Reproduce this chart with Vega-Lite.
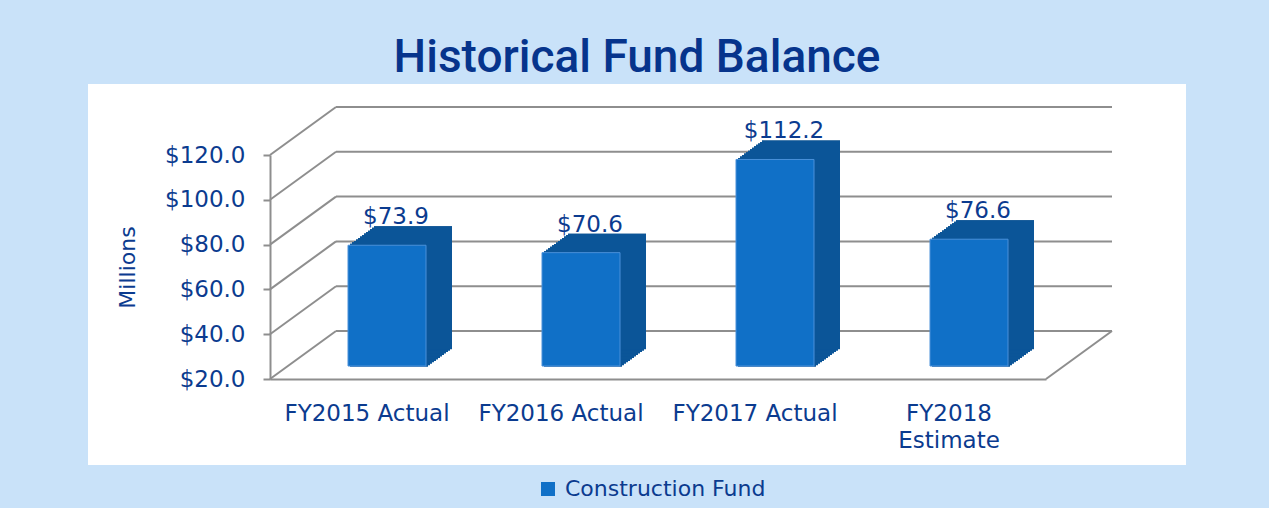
{
  "$schema": "https://vega.github.io/schema/vega-lite/v6.json",
  "width": 1098,
  "height": 381,
  "autosize": {"type": "none"},
  "padding": {"left": 88, "top": 84, "right": 83, "bottom": 43},
  "background": "#c9e2f9",
  "view": {"fill": "white", "stroke": null},
  "title": {
    "text": "Historical Fund Balance",
    "font": "Roboto",
    "fontSize": 46,
    "fontWeight": 500,
    "color": "#06348c",
    "anchor": "middle",
    "frame": "group",
    "offset": 2
  },
  "datasets": {
    "fund": [
      {"year": "FY2015 Actual", "value": 73.9},
      {"year": "FY2016 Actual", "value": 70.6},
      {"year": "FY2017 Actual", "value": 112.2},
      {"year": "FY2018 Estimate", "value": 76.6}
    ],
    "ticks": [{"v": 20}, {"v": 40}, {"v": 60}, {"v": 80}, {"v": 100}, {"v": 120}]
  },
  "data": {"name": "fund"},
  "config": {
    "axis": {
      "domainColor": "#8e8e8e",
      "domainWidth": 2,
      "tickColor": "#8e8e8e",
      "tickWidth": 2,
      "labelFont": "DejaVu Sans",
      "labelFontSize": 23,
      "labelColor": "#0b3b8f",
      "grid": false,
      "titleFont": "DejaVu Sans",
      "titleColor": "#0b3b8f",
      "titleFontWeight": "normal",
      "zindex": 1
    },
    "legend": {"labelFont": "DejaVu Sans", "labelFontSize": 22, "labelColor": "#0b3b8f", "labelLimit": 400}
  },
  "layer": [
    {
      "data": {"name": "ticks"},
      "mark": {"type": "rule", "color": "#8e8e8e", "strokeWidth": 2, "xOffset": 66, "x2Offset": 66, "yOffset": -48},
      "encoding": {
        "x": {"datum": "FY2015 Actual", "bandPosition": 0,
          "scale": {"type": "band", "domain": ["FY2015 Actual", "FY2016 Actual", "FY2017 Actual", "FY2018 Estimate"], "paddingInner": 0, "paddingOuter": 0, "range": [182, 958]},
          "axis": {"orient": "bottom", "offset": -86, "ticks": false, "labelPadding": 23, "title": null, "labelAngle": 0, "labelOverlap": false, "labelLimit": 300, "labelBaseline": "top", "labelLineHeight": 27, "labelExpr": "datum.label == 'FY2018 Estimate' ? ['FY2018', 'Estimate'] : datum.label"}},
        "x2": {"datum": "FY2018 Estimate", "bandPosition": 1},
        "y": {"field": "v", "type": "quantitative",
          "scale": {"domain": [20, 120], "range": [295, 71], "zero": false, "nice": false},
          "axis": {"orient": "left", "offset": -182, "values": [20, 40, 60, 80, 100, 120], "format": "$,.1f", "tickSize": 7, "labelPadding": 18, "title": "Millions", "titleFontSize": 22, "titlePadding": 25}}
      }
    },
    {
      "data": {"name": "ticks"},
      "mark": {"type": "rule", "color": "#8e8e8e", "strokeWidth": 2, "x2Offset": 66, "y2Offset": -48},
      "encoding": {
        "x": {"datum": "FY2015 Actual", "bandPosition": 0,
          "axis": {"orient": "bottom", "offset": -86, "ticks": false, "labelPadding": 23, "title": null, "labelAngle": 0, "labelOverlap": false, "labelLimit": 300, "labelBaseline": "top", "labelLineHeight": 27, "labelExpr": "datum.label == 'FY2018 Estimate' ? ['FY2018', 'Estimate'] : datum.label"}},
        "x2": {"datum": "FY2015 Actual", "bandPosition": 0},
        "y": {"field": "v", "type": "quantitative",
          "axis": {"orient": "left", "offset": -182, "values": [20, 40, 60, 80, 100, 120], "format": "$,.1f", "tickSize": 7, "labelPadding": 18, "title": "Millions", "titleFontSize": 22, "titlePadding": 25}},
        "y2": {"field": "v"}
      }
    },
    {
      "data": {"name": "ticks"},
      "transform": [{"filter": "datum.v == 20"}],
      "mark": {"type": "rule", "color": "#8e8e8e", "strokeWidth": 2, "x2Offset": 66, "y2Offset": -48},
      "encoding": {
        "x": {"datum": "FY2018 Estimate", "bandPosition": 1,
          "axis": {"orient": "bottom", "offset": -86, "ticks": false, "labelPadding": 23, "title": null, "labelAngle": 0, "labelOverlap": false, "labelLimit": 300, "labelBaseline": "top", "labelLineHeight": 27, "labelExpr": "datum.label == 'FY2018 Estimate' ? ['FY2018', 'Estimate'] : datum.label"}},
        "x2": {"datum": "FY2018 Estimate", "bandPosition": 1},
        "y": {"field": "v", "type": "quantitative",
          "axis": {"orient": "left", "offset": -182, "values": [20, 40, 60, 80, 100, 120], "format": "$,.1f", "tickSize": 7, "labelPadding": 18, "title": "Millions", "titleFontSize": 22, "titlePadding": 25}},
        "y2": {"field": "v"}
      }
    },
    {
      "encoding": {
        "x": {"field": "year", "type": "nominal",
          "axis": {"orient": "bottom", "offset": -86, "ticks": false, "labelPadding": 23, "title": null, "labelAngle": 0, "labelOverlap": false, "labelLimit": 300, "labelBaseline": "top", "labelLineHeight": 27, "labelExpr": "datum.label == 'FY2018 Estimate' ? ['FY2018', 'Estimate'] : datum.label"}},
        "y": {"field": "value", "type": "quantitative",
          "axis": {"orient": "left", "offset": -182, "values": [20, 40, 60, 80, 100, 120], "format": "$,.1f", "tickSize": 7, "labelPadding": 18, "title": "Millions", "titleFontSize": 22, "titlePadding": 25}},
        "y2": {"datum": 20}
      },
      "layer": [
        {"mark": {"type": "bar", "width": 78, "color": "#0a4a80", "xOffset": 22, "yOffset": -14.46, "y2Offset": -14.46}},
        {"mark": {"type": "bar", "width": 78, "color": "#0a4a80", "xOffset": 24, "yOffset": -15.92, "y2Offset": -15.92}},
        {"mark": {"type": "bar", "width": 78, "color": "#0a4a80", "xOffset": 26, "yOffset": -17.38, "y2Offset": -17.38}},
        {"mark": {"type": "bar", "width": 78, "color": "#0a4a80", "xOffset": 28, "yOffset": -18.85, "y2Offset": -18.85}},
        {"mark": {"type": "bar", "width": 78, "color": "#0a4a80", "xOffset": 30, "yOffset": -20.31, "y2Offset": -20.31}},
        {"mark": {"type": "bar", "width": 78, "color": "#0a4a80", "xOffset": 32, "yOffset": -21.77, "y2Offset": -21.77}},
        {"mark": {"type": "bar", "width": 78, "color": "#0a4a80", "xOffset": 34, "yOffset": -23.23, "y2Offset": -23.23}},
        {"mark": {"type": "bar", "width": 78, "color": "#0a4a80", "xOffset": 36, "yOffset": -24.69, "y2Offset": -24.69}},
        {"mark": {"type": "bar", "width": 78, "color": "#0a4a80", "xOffset": 38, "yOffset": -26.15, "y2Offset": -26.15}},
        {"mark": {"type": "bar", "width": 78, "color": "#0a4a80", "xOffset": 40, "yOffset": -27.62, "y2Offset": -27.62}},
        {"mark": {"type": "bar", "width": 78, "color": "#0a4a80", "xOffset": 42, "yOffset": -29.08, "y2Offset": -29.08}},
        {"mark": {"type": "bar", "width": 78, "color": "#0a4a80", "xOffset": 44, "yOffset": -30.54, "y2Offset": -30.54}},
        {"mark": {"type": "bar", "width": 78, "color": "#0a4a80", "xOffset": 46, "yOffset": -32, "y2Offset": -32}},
        {"mark": {"type": "bar", "width": 78, "color": "#0b5598", "xOffset": 22, "yOffset": -14.46, "y2Offset": -12.26}, "encoding": {"y2": {"field": "value"}}},
        {"mark": {"type": "bar", "width": 78, "color": "#0b5598", "xOffset": 24, "yOffset": -15.92, "y2Offset": -13.72}, "encoding": {"y2": {"field": "value"}}},
        {"mark": {"type": "bar", "width": 78, "color": "#0b5598", "xOffset": 26, "yOffset": -17.38, "y2Offset": -15.18}, "encoding": {"y2": {"field": "value"}}},
        {"mark": {"type": "bar", "width": 78, "color": "#0b5598", "xOffset": 28, "yOffset": -18.85, "y2Offset": -16.65}, "encoding": {"y2": {"field": "value"}}},
        {"mark": {"type": "bar", "width": 78, "color": "#0b5598", "xOffset": 30, "yOffset": -20.31, "y2Offset": -18.11}, "encoding": {"y2": {"field": "value"}}},
        {"mark": {"type": "bar", "width": 78, "color": "#0b5598", "xOffset": 32, "yOffset": -21.77, "y2Offset": -19.57}, "encoding": {"y2": {"field": "value"}}},
        {"mark": {"type": "bar", "width": 78, "color": "#0b5598", "xOffset": 34, "yOffset": -23.23, "y2Offset": -21.03}, "encoding": {"y2": {"field": "value"}}},
        {"mark": {"type": "bar", "width": 78, "color": "#0b5598", "xOffset": 36, "yOffset": -24.69, "y2Offset": -22.49}, "encoding": {"y2": {"field": "value"}}},
        {"mark": {"type": "bar", "width": 78, "color": "#0b5598", "xOffset": 38, "yOffset": -26.15, "y2Offset": -23.95}, "encoding": {"y2": {"field": "value"}}},
        {"mark": {"type": "bar", "width": 78, "color": "#0b5598", "xOffset": 40, "yOffset": -27.62, "y2Offset": -25.42}, "encoding": {"y2": {"field": "value"}}},
        {"mark": {"type": "bar", "width": 78, "color": "#0b5598", "xOffset": 42, "yOffset": -29.08, "y2Offset": -26.88}, "encoding": {"y2": {"field": "value"}}},
        {"mark": {"type": "bar", "width": 78, "color": "#0b5598", "xOffset": 44, "yOffset": -30.54, "y2Offset": -28.34}, "encoding": {"y2": {"field": "value"}}},
        {"mark": {"type": "bar", "width": 78, "color": "#0b5598", "xOffset": 46, "yOffset": -32, "y2Offset": -29.8}, "encoding": {"y2": {"field": "value"}}},
        {
          "mark": {"type": "bar", "width": 78, "xOffset": 20, "yOffset": -13, "y2Offset": -13, "stroke": "#4a90d9", "strokeWidth": 1},
          "encoding": {
            "color": {
              "datum": "Construction Fund",
              "scale": {"range": ["#1070c7"]},
              "legend": {
                "title": null,
                "orient": "none",
                "legendX": 449,
                "legendY": 394,
                "symbolType": "square",
                "symbolSize": 196,
                "symbolStrokeWidth": 0,
                "labelFontSize": 22,
                "labelOffset": 6,
                "padding": 0
              }
            }
          }
        }
      ]
    },
    {
      "mark": {"type": "text", "font": "DejaVu Sans", "fontSize": 23, "color": "#0b3b8f", "baseline": "alphabetic", "xOffset": 29, "yOffset": -34},
      "encoding": {
        "x": {"field": "year", "type": "nominal",
          "axis": {"orient": "bottom", "offset": -86, "ticks": false, "labelPadding": 23, "title": null, "labelAngle": 0, "labelOverlap": false, "labelLimit": 300, "labelBaseline": "top", "labelLineHeight": 27, "labelExpr": "datum.label == 'FY2018 Estimate' ? ['FY2018', 'Estimate'] : datum.label"}},
        "y": {"field": "value", "type": "quantitative",
          "axis": {"orient": "left", "offset": -182, "values": [20, 40, 60, 80, 100, 120], "format": "$,.1f", "tickSize": 7, "labelPadding": 18, "title": "Millions", "titleFontSize": 22, "titlePadding": 25}},
        "text": {"field": "value", "type": "quantitative", "format": "$.1f"}
      }
    }
  ]
}
